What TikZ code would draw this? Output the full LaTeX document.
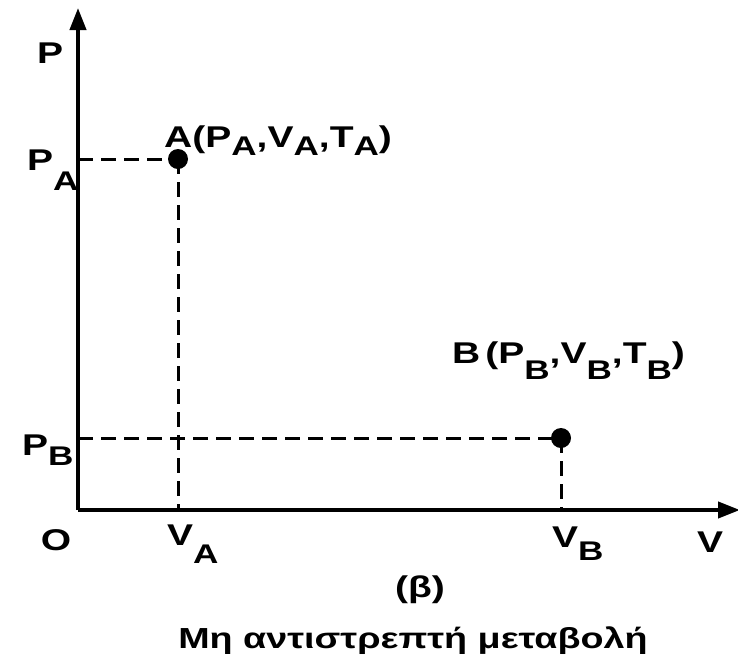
\documentclass[tikz,border=0pt]{standalone}
\usepackage{fontspec}
\setmainfont{Liberation Sans}[FakeStretch=1.3]
\usetikzlibrary{arrows.meta}
\newcommand\sbsc[2]{\raisebox{-#1pt}{\fontsize{27}{27}\selectfont #2}}
\begin{document}
\begin{tikzpicture}[x=1pt,y=-1pt,
  lbl/.style={font=\fontsize{30}{30}\selectfont\bfseries, inner sep=0},
  axis/.style={line width=4pt,-{Triangle[length=22pt,width=16pt]}},
  guide/.style={line width=3pt, dash pattern=on 15pt off 8pt},
  dot/.style={circle, fill, inner sep=0, minimum size=20pt}]
\useasboundingbox (0,0) rectangle (738,657);
\coordinate (O) at (78,510);
\coordinate (Ytip) at (78,8);
\coordinate (Xtip) at (740,510);
\node[dot] (A) at (178,159) {};
\node[dot] (B) at (561,438) {};
\coordinate (PA) at (78,159);
\coordinate (VA) at (178,510);
\coordinate (PB) at (78,438);
\coordinate (VB) at (561,510);
\draw[guide] (PA) -- (A.center);
\draw[guide] (A.center) -- (VA);
\draw[guide] (PB) -- (B.center);
\draw[guide] (B.center) -- (VB);
\draw[axis] (O) -- (Ytip);
\draw[axis] (O) -- (Xtip);
\node[lbl, anchor=base west] (lP) at (37,63) {P};
\node[lbl, anchor=base west] (lPA) at (27,170) {P\sbsc{20}{A}};
\node[lbl, anchor=base west] (lPB) at (22,455) {P\sbsc{10}{B}};
\node[lbl, anchor=base] (lO) at (56,550) {O};
\node[lbl, anchor=base west] (lVA) at (167,545) {V\sbsc{18}{A}};
\node[lbl, anchor=base west] (lVB) at (552,547) {V\sbsc{13}{B}};
\node[lbl, anchor=base west] (lV) at (697,552) {V};
\node[lbl, anchor=base west] (lA) at (164,147) {A(P\sbsc{8}{A},V\sbsc{8}{A},T\sbsc{8}{A})};
\node[lbl, anchor=base west] (lB) at (452,363) {B\,(P\sbsc{16}{B},V\sbsc{16}{B},T\sbsc{16}{B})};
\node[lbl, anchor=base] (lbeta) at (420,597) {(β)};
\node[lbl, anchor=base, font=\fontsize{29}{29}\selectfont\bfseries] (cap) at (413,648) {Μη αντιστρεπτή μεταβολή};
\end{tikzpicture}
\end{document}
